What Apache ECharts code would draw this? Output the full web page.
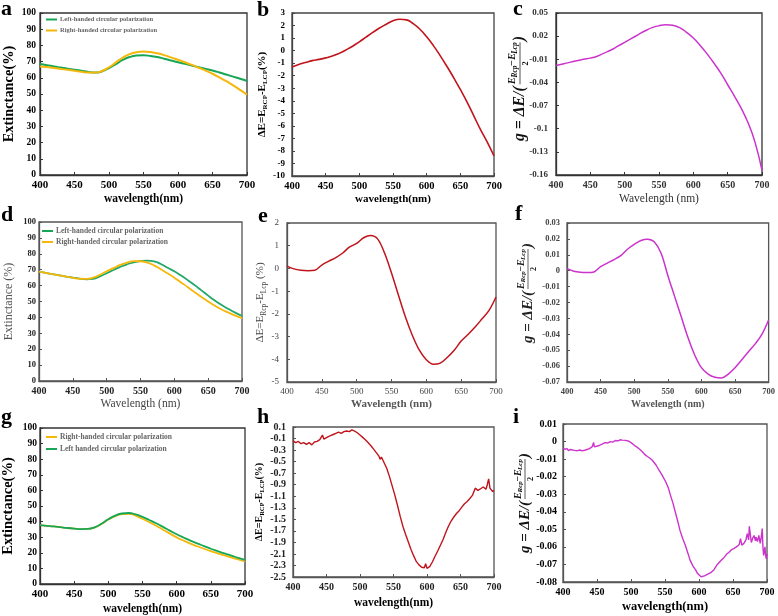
<!DOCTYPE html>
<html><head><meta charset="utf-8">
<script src="https://cdn.jsdelivr.net/npm/echarts@6/dist/echarts.min.js"></script>
<style>html,body{margin:0;padding:0;background:#fff}#c{width:778px;height:616px}</style>
</head><body><div id="c"></div>
<script>
// ---------- DATA ----------
const wl10 = [400,410,420,430,440,450,460,470,480,490,500,510,520,530,540,550,560,570,580,590,600,610,620,630,640,650,660,670,680,690,700];
const xTicks = [400,450,500,550,600,650,700];

// panel a : extinctance (%)
const aLeft  = [68.5,67.8,67.0,66.3,65.6,65.0,64.3,63.6,63.2,64.0,66.0,68.5,71.0,72.8,73.7,73.9,73.5,72.8,71.8,70.7,69.6,68.6,67.6,66.5,65.5,64.5,63.3,62.0,60.7,59.4,58.0];
const aRight = [67.0,66.6,66.1,65.5,64.9,64.3,63.7,63.2,63.2,64.2,66.5,69.5,72.5,74.6,75.8,76.2,75.9,75.1,74.0,72.6,71.1,69.6,68.0,66.2,64.4,62.5,60.3,57.9,55.3,52.5,49.5];
// panel b : delta E (%)
const bDelta = [-1.3,-1.1,-0.95,-0.8,-0.7,-0.58,-0.43,-0.22,0.05,0.35,0.7,1.08,1.45,1.8,2.1,2.38,2.5,2.45,2.15,1.7,1.1,0.4,-0.4,-1.25,-2.15,-3.1,-4.1,-5.2,-6.3,-7.3,-8.4];
// panel c : g factor
const cG = [-0.018,-0.016,-0.014,-0.012,-0.010,-0.0085,-0.006,-0.002,0.002,0.007,0.012,0.017,0.022,0.027,0.031,0.0335,0.0348,0.034,0.031,0.025,0.0175,0.008,-0.003,-0.015,-0.028,-0.043,-0.058,-0.074,-0.093,-0.118,-0.154];
// panel d : extinctance (%)
const dLeft  = [68.8,68.0,67.2,66.4,65.7,65.0,64.4,64.0,64.3,65.8,67.8,69.8,71.8,73.4,74.6,75.4,75.7,75.2,73.6,71.2,69.0,66.3,63.4,60.3,57.0,53.7,50.6,47.8,45.3,43.0,41.0];
const dRight = [68.8,68.0,67.2,66.4,65.6,64.9,64.3,64.2,65.0,66.8,69.0,71.0,73.0,74.5,75.4,75.3,74.4,72.7,70.3,67.7,65.0,62.0,59.0,55.9,52.9,50.0,47.3,45.0,43.0,41.1,39.5];
// panel e : delta E (%)
const eDelta = [0.1,-0.02,-0.08,-0.1,-0.08,0.15,0.32,0.48,0.68,0.95,1.1,1.35,1.45,1.3,0.68,-0.2,-1.18,-2.14,-2.95,-3.6,-4.02,-4.22,-4.17,-3.92,-3.6,-3.2,-2.9,-2.58,-2.22,-1.85,-1.26];
// panel f : g factor
const fG = [0.0013,-0.0003,-0.001,-0.0012,-0.0008,0.0025,0.0048,0.007,0.0095,0.0135,0.0165,0.019,0.0198,0.018,0.011,-0.003,-0.016,-0.029,-0.042,-0.053,-0.061,-0.065,-0.067,-0.0675,-0.065,-0.061,-0.056,-0.051,-0.046,-0.040,-0.031];
// panel g : extinctance (%)
const gRight = [37.7,37.3,36.9,36.4,35.9,35.5,35.2,35.3,36.3,38.5,41.3,43.5,44.8,45.0,43.8,41.8,39.6,37.3,34.8,32.3,29.9,27.8,25.9,24.2,22.6,21.1,19.7,18.3,17.0,15.7,14.5];
const gLeft  = [37.7,37.3,36.9,36.4,35.9,35.5,35.2,35.3,36.3,38.6,41.5,43.8,45.2,45.5,44.6,43.0,41.0,38.9,36.6,34.2,31.9,29.8,27.8,26.0,24.3,22.6,21.1,19.6,18.2,16.8,15.5];
// panel h : delta E (%), measured (noisy)
const hWl = [400,404,408,412,416,420,424,428,432,436,440,444,446,448,452,456,460,464,468,472,476,480,484,488,492,496,500,504,508,512,516,520,524,528,530,532,536,540,544,548,552,556,560,564,568,572,576,580,584,588,592,596,598,600,604,608,612,616,620,624,628,632,636,640,644,648,652,656,660,664,668,672,676,680,684,688,690,692,694,696,698,700];
const hDelta = [-0.14,-0.17,-0.15,-0.19,-0.17,-0.20,-0.17,-0.21,-0.16,-0.15,-0.12,-0.04,-0.11,-0.09,-0.07,-0.05,-0.03,-0.01,0.01,-0.01,0.02,0.03,0.02,0.05,0.03,0.0,-0.04,-0.08,-0.12,-0.17,-0.22,-0.28,-0.34,-0.40,-0.46,-0.42,-0.52,-0.62,-0.76,-0.92,-1.08,-1.26,-1.45,-1.62,-1.76,-1.89,-2.02,-2.13,-2.23,-2.29,-2.33,-2.34,-2.27,-2.35,-2.32,-2.24,-2.14,-2.05,-1.95,-1.85,-1.73,-1.62,-1.53,-1.46,-1.40,-1.35,-1.29,-1.23,-1.19,-1.14,-1.08,-0.96,-1.00,-0.97,-0.94,-0.98,-0.90,-0.80,-0.96,-0.93,-1.02,-1.00];
// panel i : g factor, measured (noisy)
const iWl = [400,403,406,408,411,413,417,421,425,428,430,433,435,439,443,445,446,448,452,455,459,462,466,470,473,477,481,484,487,489,492,494,497,499,503,506,510,514,517,521,524,528,531,533,537,541,546,551,555,558,562,565,569,572,576,580,584,587,591,595,598,600,603,605,608,610,613,615,618,620,622,624,627,629,633,637,641,644,648,651,655,659,661,663,666,669,671,673,674,676,677,679,681,683,684,686,688,690,691,692,693,694,695,697,698,699,700];
const iG = [-0.0038,-0.0044,-0.0040,-0.0052,-0.0045,-0.0044,-0.0050,-0.0052,-0.0048,-0.0053,-0.0057,-0.0048,-0.0044,-0.0040,-0.0029,-0.0005,-0.0030,-0.0029,-0.0024,-0.0019,-0.0012,-0.0006,-0.0008,0.0000,-0.0003,0.0006,0.0004,0.0010,0.0008,0.0015,0.0007,0.0012,0.0002,-0.0006,-0.0015,-0.0025,-0.0035,-0.0048,-0.0060,-0.0076,-0.0085,-0.0095,-0.0105,-0.0115,-0.0135,-0.0162,-0.0193,-0.0229,-0.0265,-0.0305,-0.0355,-0.0400,-0.0458,-0.0506,-0.0552,-0.0592,-0.0640,-0.0677,-0.0708,-0.0731,-0.0752,-0.0763,-0.0770,-0.0773,-0.0765,-0.0768,-0.0755,-0.0760,-0.0745,-0.0748,-0.0730,-0.0720,-0.0700,-0.0690,-0.0675,-0.0660,-0.0640,-0.0632,-0.0615,-0.0610,-0.0600,-0.0588,-0.0553,-0.0590,-0.0580,-0.0560,-0.0525,-0.0560,-0.0483,-0.0545,-0.0575,-0.0550,-0.0535,-0.0565,-0.0545,-0.0570,-0.0534,-0.0580,-0.0560,-0.0530,-0.0496,-0.0600,-0.0649,-0.0600,-0.0650,-0.0668,-0.0640];

const panelLetters = ['a','b','c','d','e','f','g','h','i'];
const nameL = 'Left-handed circular polarization';
const nameR = 'Right-handed circular polarization';
const nameL2 = 'Left handed circular polarization';

// ---------- STYLE / LAYOUT ----------
const FONT = '"Liberation Serif","Times New Roman",serif';
const GREEN = '#17a656', YELLOW = '#f5b70a', RED = '#c0141c', MAG = '#cc33cc';

const grids = [
  [40,13,207,162],[292,13,202,163],[556,13,206,162],
  [39,222,203,159],[287,223,209,159],[567,223,203,159],
  [39,428,206,157],[293,427,201,150],[563,424,204,158]
];
const P = [
  {ymin:0,ymax:100,yint:10,dec:0,xName:'wavelength(nm)',xs:11.5,xw:'bold',xc:'#000',xg:18,xl:11,yl:9.5,lw:'bold',lc:'#000',ym:4,bc:'#333'},
  {ymin:-10,ymax:3,yint:1,dec:0,xName:'wavelength(nm)',xs:11,xw:'bold',xc:'#000',xg:18,xl:10.5,yl:9,lw:'bold',lc:'#000',ym:7,bc:'#444'},
  {ymin:-0.16,ymax:0.05,yint:0.03,dec:2,xName:'Wavelength (nm)',xs:11.5,xw:'normal',xc:'#333',xg:18,xl:10,yl:9,lw:'bold',lc:'#333',ym:8,bc:'#333'},
  {ymin:0,ymax:100,yint:10,dec:0,xName:'Wavelength (nm)',xs:11.5,xw:'normal',xc:'#444',xg:17,xl:10,yl:8.5,lw:'bold',lc:'#222',ym:3,bc:'#555'},
  {ymin:-5,ymax:2,yint:1,dec:0,xName:'Wavelength (nm)',xs:11,xw:'bold',xc:'#555',xg:17,xl:9,yl:9,lw:'normal',lc:'#444',ym:8,bc:'#555'},
  {ymin:-0.07,ymax:0.03,yint:0.01,dec:2,xName:'Wavelength (nm)',xs:10,xw:'bold',xc:'#555',xg:17,xl:8.5,yl:8.5,lw:'bold',lc:'#444',ym:7,bc:'#555'},
  {ymin:0,ymax:100,yint:10,dec:0,xName:'wavelength(nm)',xs:11.5,xw:'bold',xc:'#000',xg:19,xl:11,yl:9.5,lw:'bold',lc:'#000',ym:3,bc:'#333'},
  {ymin:-2.5,ymax:0.1,yint:0.2,dec:1,xName:'wavelength(nm)',xs:11.5,xw:'bold',xc:'#000',xg:20,xl:10,yl:10,lw:'bold',lc:'#222',ym:7,bc:'#555'},
  {ymin:-0.08,ymax:0.01,yint:0.01,dec:2,xName:'wavelength(nm)',xs:12.5,xw:'bold',xc:'#000',xg:18,xl:10,yl:10,lw:'bold',lc:'#000',ym:6,bc:'#555'}
];
function richDE(sub1, sub2, tail, size, sub, weight, color){
  return {
    name: '{m|ΔE=E}{s|'+sub1+'}{m|-E}{s|'+sub2+'}{m|'+tail+'}',
    style: {fontFamily:FONT, fontWeight:weight, fontSize:size, color:color,
      rich:{ m:{fontFamily:FONT,fontWeight:weight,fontSize:size,color:color,lineHeight:size+4},
             s:{fontFamily:FONT,fontWeight:weight,fontSize:sub,color:color,lineHeight:sub,padding:[size*0.7,0,0,0]} } }
  };
}
const yNames = [
  {name:'Extinctance(%)',style:{fontFamily:FONT,fontWeight:'bold',fontSize:14.4,color:'#000'},gap:24},
  Object.assign(richDE('RCP','LCP','(%)',11,7,'bold','#000'),{gap:16}),
  null,
  {name:'Extinctance (%)',style:{fontFamily:FONT,fontWeight:'normal',fontSize:12,color:'#555'},gap:24},
  Object.assign(richDE('Rcp','Lcp',' (%)',11,7.5,'normal','#444'),{gap:19}),
  null,
  {name:'Extinctance(%)',style:{fontFamily:FONT,fontWeight:'bold',fontSize:14.5,color:'#000'},gap:24},
  Object.assign(richDE('RCP','LCP','(%)',10,6.5,'bold','#000'),{gap:22}),
  null
];

const grid = [], xAxis = [], yAxis = [];
grids.forEach((g,k)=>{
  const p = P[k];
  grid.push({left:g[0],top:g[1],width:g[2],height:g[3],show:true,borderColor:p.bc,borderWidth:1.3,backgroundColor:'rgba(0,0,0,0)'});
  xAxis.push({type:'value',gridIndex:k,min:400,max:700,interval:50,position:'bottom',
    name:p.xName,nameLocation:'middle',nameGap:p.xg,
    nameTextStyle:{fontFamily:FONT,fontWeight:p.xw,fontSize:p.xs,color:p.xc,verticalAlign:'top'},
    axisLine:{show:true,onZero:false,lineStyle:{color:p.bc,width:1.3}},
    axisTick:{show:true,inside:true,length:3,lineStyle:{color:p.bc}},
    axisLabel:{fontFamily:FONT,fontWeight:p.lw,fontSize:p.xl,color:p.lc,margin:5},
    splitLine:{show:false}});
  const yn = yNames[k];
  const ya = {type:'value',gridIndex:k,min:p.ymin,max:p.ymax,interval:p.yint,position:'left',
    axisLine:{show:true,onZero:false,lineStyle:{color:p.bc,width:1.3}},
    axisTick:{show:true,inside:true,length:3,lineStyle:{color:p.bc}},
    axisLabel:{fontFamily:FONT,fontWeight:p.lw,fontSize:p.yl,color:p.lc,margin:p.ym,
      formatter:(v)=>String(+(+v).toFixed(p.dec))},
    splitLine:{show:false}};
  if (yn){
    ya.name = yn.name; ya.nameLocation='middle'; ya.nameRotate=90; ya.nameGap=yn.gap; ya.nameTextStyle=yn.style;
  }
  yAxis.push(ya);
});

function line(name, idx, xs, ys, color, width, smooth){
  return {type:'line',name:name,xAxisIndex:idx,yAxisIndex:idx,
    data: xs.map((x,k)=>[x,ys[k]]),
    symbol:'none',showSymbol:false,smooth:smooth,
    lineStyle:{color:color,width:width},itemStyle:{color:color},z:3};
}
const series = [
  line(nameL,0,wl10,aLeft,GREEN,2,true),
  line(nameR,0,wl10,aRight,YELLOW,2,true),
  line('ΔE b',1,wl10,bDelta,RED,1.6,true),
  line('g c',2,wl10,cG,MAG,1.5,true),
  line(nameL,3,wl10,dLeft,'#22a868',1.8,true),
  line(nameR,3,wl10,dRight,YELLOW,1.8,true),
  line('ΔE e',4,wl10,eDelta,RED,1.5,0.35),
  line('g f',5,wl10,fG,MAG,1.5,0.35),
  line(nameR,6,wl10,gRight,YELLOW,1.8,true),
  line(nameL2,6,wl10,gLeft,GREEN,1.8,true),
  line('ΔE h',7,hWl,hDelta,RED,1.4,false),
  line('g i',8,iWl,iG,MAG,1.4,false)
];

function legend(left, top, names, size, gap){
  return {left:left,top:top,orient:'vertical',padding:0,itemGap:gap,itemWidth:11,itemHeight:2,
    icon:'rect',selectedMode:false,data:names,
    textStyle:{fontFamily:FONT,fontWeight:'bold',fontSize:size,color:'#666',padding:[0,0,0,-2]}};
}
const legends = [
  legend(46,16,[nameL,nameR],6.5,4),
  legend(42,227,[nameL,nameR],7.5,3),
  legend(46,433,[nameR,nameL2],7.5,4)
];

const titlePos = [[1,-2],[257,-1],[513,-2],[1,204],[258,205],[515,203],[1,406],[257,406],[513,406]];
const titles = panelLetters.map((t,k)=>({text:t,left:titlePos[k][0],top:titlePos[k][1],padding:0,
  textStyle:{fontFamily:FONT,fontWeight:'bold',fontSize:22,color:'#000'}}));

function mathTitle(x, y, s, color){
  const it = (sz)=>'italic bold '+sz+'px '+FONT;
  return {type:'group',x:x,y:y,rotation:Math.PI/2,scaleX:s,scaleY:s,children:[
    {type:'text',x:0,y:0,style:{text:'g = ΔE/(',font:it(15),fill:color,align:'left',verticalAlign:'middle'}},
    {type:'text',x:54,y:-7,style:{text:'E',font:it(10),fill:color,align:'left',verticalAlign:'middle'}},
    {type:'text',x:60.5,y:-4.5,style:{text:'Rcp',font:it(7),fill:color,align:'left',verticalAlign:'middle'}},
    {type:'text',x:71,y:-7,style:{text:'−E',font:it(10),fill:color,align:'left',verticalAlign:'middle'}},
    {type:'text',x:83,y:-4.5,style:{text:'Lcp',font:it(7),fill:color,align:'left',verticalAlign:'middle'}},
    {type:'line',shape:{x1:54,y1:0,x2:94,y2:0},style:{stroke:color,lineWidth:0.7}},
    {type:'text',x:74,y:6,style:{text:'2',font:'bold 8px '+FONT,fill:color,align:'center',verticalAlign:'middle'}},
    {type:'text',x:95,y:0,style:{text:')',font:it(15),fill:color,align:'left',verticalAlign:'middle'}}
  ]};
}

const chart = echarts.init(document.getElementById('c'), null, {renderer:'canvas'});
chart.setOption({
  animation:false,
  backgroundColor:'#fff',
  title: titles,
  legend: legends,
  grid: grid, xAxis: xAxis, yAxis: yAxis, series: series,
  graphic: [mathTitle(520,141,1.05,'#111'), mathTitle(528,343,1,'#222'), mathTitle(525,553,1,'#111')]
});
</script></body></html>
